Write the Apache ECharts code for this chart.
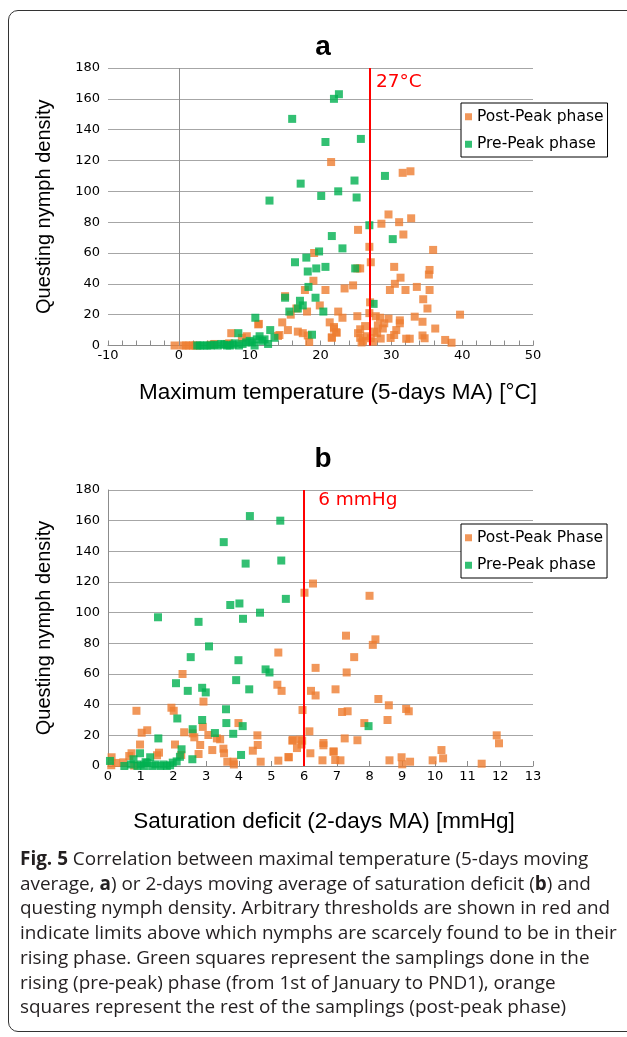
<!DOCTYPE html>
<html><head><meta charset="utf-8">
<script src="https://cdn.jsdelivr.net/npm/echarts@6/dist/echarts.min.js"></script>
<style>
html,body{margin:0;padding:0;background:#fff;}
#wrap{position:relative;width:627px;height:1037px;overflow:hidden;background:#fff;}
#chart{position:absolute;left:0;top:0;width:627px;height:1037px;}
#frame{position:absolute;left:8px;top:10px;width:680px;height:1022px;border:1.5px solid #333;border-radius:10px;box-sizing:border-box;pointer-events:none;}
#caption{position:absolute;left:20px;top:846px;font-family:'Open Sans';font-size:17px;line-height:24.7px;color:#231f20;white-space:nowrap;}
#caption b{font-weight:bold;}
</style></head>
<body>
<div id="wrap">
<div id="chart"></div>
<div id="frame"></div>
<div id="caption"></div>
</div>
<script>
// ---- Panel a: maximum temperature (5-days MA) vs questing nymph density ----
const tempPostPeak = [
 [21.5,119],[25.3,75],[19.1,60],[25.2,50],[19.0,42],[17.8,36],[20.7,36],[23.4,37],[24.6,39],[15.0,32],
 [16.6,24],[18.1,22],[19.9,26],[22.5,22],[23.1,18],[25.2,19],[14.6,15],[21.3,15],[11.3,14],[15.8,20],
 [15.4,10],[16.8,9],[17.5,8],[18.2,6.5],[21.9,12],[22.2,8.6],[21.6,5],[18.4,2.3],[14.0,6.2],[14.2,6.8],
 [7.4,8],[9.6,6],[8.9,5],[7.1,1.4],[5.0,1],[4.5,0.5],[6.8,1],[11.2,13.7],
 [-0.6,0],[0.5,0],[1.0,0],[1.5,0],[2.0,0],[2.4,0],
 [31.6,112],[32.7,113],[29.6,85],[28.6,79],[31.1,80],[32.8,82.5],[31.7,72],[26.9,64],[35.9,62],[27.1,54],
 [30.4,51],[25.6,50],[35.4,49],[35.3,46],[31.3,44],[30.5,40],[33.6,38],[29.8,36],[32.0,36],[35.4,36],
 [34.5,30],[27.0,28],[35.1,24],[26.9,21],[27.8,19],[28.4,18],[29.6,17.4],[31.2,16.3],[33.3,18.7],[34.4,15.4],
 [39.7,20],[31.2,14.4],[29.0,14.4],[36.2,11],[25.6,10.5],[26.3,12.6],[28.1,13],[30.7,10],[21.9,11],[22.3,8.3],
 [25.3,8],[28.0,8],[30.4,6.8],[34.4,6.5],[21.6,5.3],[25.6,5],[27.1,4.7],[28.5,4.5],[29.9,4.9],[32.1,4.4],
 [32.6,4.4],[34.7,4.7],[37.6,3.6],[38.5,1.8],[26.0,3],[26.5,6],[27.6,9],[28.8,11],[25.8,2],[27.4,2.5]
];
const tempPrePeak = [
 [16.0,147],[21.9,160],[22.6,163],[20.7,132],[25.7,134],[17.2,105],[12.8,94],[20.1,97],[22.5,100],[24.8,107],
 [25.1,96],[29.1,110],[26.9,78],[30.2,69],[21.6,71],[23.1,63],[19.8,61],[16.4,54],[18.0,57],[18.2,48],
 [19.4,50],[20.7,51],[24.9,50],[18.3,38],[15.0,31],[19.3,31],[17.1,29],[17.5,26],[16.8,24],[15.6,22],
 [20.4,22],[27.5,27],[10.8,18],[12.9,10],[8.4,8],[18.8,7],[11.4,6],[12.1,4],[13.5,5],[12.6,1],[10.7,0],
 [2.6,0],[3.0,0],[3.5,0],[4.0,0],[4.5,0],[5.0,0.5],[5.5,0],[6.0,1],[6.4,0.5],[6.8,0],
 [7.2,0],[7.6,0.5],[7.9,1.4],[8.5,0],[9.0,1],[9.5,2],[10.0,3],[10.3,2],[11.0,4],[11.8,3]
];
// ---- Panel b: saturation deficit (2-days MA) vs questing nymph density ----
const sdPostPeak = [
 [6.27,119],[6.01,113],[5.21,74],[6.35,64],[2.28,60],[5.18,53],[5.31,49],[6.21,49],[6.35,46],[2.92,42],
 [0.87,36],[1.94,38],[2.01,36],[5.95,36.5],[3.99,28],[2.90,25.5],[1.03,21.7],[1.20,23.3],[2.33,22],[2.59,21.3],
 [2.64,18.7],[3.07,20.2],[3.33,18],[3.43,17.4],[4.57,20],[6.16,22.6],[0.98,14],[2.05,14],[2.82,13.7],[4.58,13.7],
 [5.64,16.5],[5.94,16.5],[5.92,14],[6.59,15],[6.59,13.5],[5.78,11.7],[3.53,11.3],[3.19,10.4],[4.43,10],[6.90,9.5],
 [6.19,8.3],[0.72,8.3],[0.65,6.5],[3.55,8.3],[2.77,7.8],[1.56,8.7],[1.50,7],[2.24,7.2],[0.11,5.7],[0.10,0.5],
 [0.25,2],[0.47,2.4],[0.8,0.3],[3.65,2.8],[3.84,2.8],[3.85,1],[4.67,2.8],[5.21,3.5],[5.52,5.8],[6.56,3.7],
 [6.95,3.9],[8.00,111],[7.28,85],[8.18,82.6],[8.10,79],[7.53,71],[7.30,61],[6.96,50],[8.27,43.7],[8.59,39.6],
 [9.12,37.2],[9.20,35.7],[7.16,35.2],[7.33,35.7],[8.55,30],[7.84,28],[11.89,20],[11.96,14.8],[5.65,17],[5.88,17.2],
 [7.24,18],[7.63,16.8],[6.90,9.3],[10.20,10.4],[10.25,5],[5.53,5.7],[7.11,3.7],[8.61,3.7],[8.98,5.7],[9.0,1.1],
 [9.24,2.8],[9.93,3.7],[11.43,1.5]
];
const sdPrePeak = [
 [4.34,163],[5.27,160],[3.54,146],[5.30,134],[4.21,132],[5.44,109],[3.74,105],[4.02,106],[4.65,100],[4.13,96],
 [1.53,97],[2.77,94],[3.09,78],[2.53,71],[3.99,69],[4.82,63],[4.94,61],[3.92,56],[2.08,54],[4.32,50],
 [2.44,49],[2.88,51],[2.99,48],[3.61,37],[2.12,31],[2.88,30],[3.62,28],[4.12,26],[2.59,24],[3.27,21.5],
 [3.83,21],[1.54,18],[2.25,10.9],[2.58,4.4],[0.98,8.3],[1.29,5.7],[4.07,7.2],[0.06,3.3],[7.97,26],[0.78,4.4],
 [0.5,0],[0.7,1],[0.9,0],[1.0,1],[1.1,0],[1.2,2],[1.35,0],[1.45,1],[1.6,0],[1.7,1],
 [1.8,0],[1.9,0.5],[1.98,2.2],[2.1,3],[2.2,6],[1.15,2.5]
];
const tempTicks = {min:-10, max:50, step:2, labelStep:10};
const sdTicks = {min:0, max:13, step:1};
const densityTicks = {min:0, max:180, step:20};
const tempThreshold = 27, sdThreshold = 6;
const labels = {
  titleA:'a', titleB:'b',
  xNameA:'Maximum temperature (5-days MA) [°C]',
  xNameB:'Saturation deficit (2-days MA) [mmHg]',
  yName:'Questing nymph density',
  postA:'Post-Peak phase', postB:'Post-Peak Phase', pre:'Pre-Peak phase',
  thrA:'27°C', thrB:'6 mmHg'
};
const captionHTML = [
 '<b>Fig. 5</b> Correlation between maximal temperature (5-days moving',
 'average, <b>a</b>) or 2-days moving average of saturation deficit (<b>b</b>) and',
 'questing nymph density. Arbitrary thresholds are shown in red and',
 'indicate limits above which nymphs are scarcely found to be in their',
 'rising phase. Green squares represent the samplings done in the',
 'rising (pre-peak) phase (from 1st of January to PND1), orange',
 'squares represent the rest of the samplings (post-peak phase)'
];

// caption
const cap = document.getElementById('caption');
cap.innerHTML = captionHTML.join('<br>');
(function fitCaption(){
  const c = document.createElement('canvas').getContext('2d');
  c.font = "100px 'Open Sans'";
  const w = c.measureText('indicate limits above which nymphs are scarcely found to be in their').width;
  cap.style.fontSize = (100*597/w).toFixed(2)+'px';
})();

const ORANGE = '#ED7D31', GREEN = '#00B050', GRID = '#a6a6a6', AXIS = '#8c8c8c';
const tickFont = {color:'#000', fontSize:13, fontFamily:'DejaVu Sans'};
const nameFont = {color:'#000', fontSize:22.5, fontFamily:'Liberation Sans'};

function yAxisFor(idx, showLine){
  return {
    gridIndex: idx, type:'value', min:densityTicks.min, max:densityTicks.max, interval:densityTicks.step,
    axisLine:{show:showLine, lineStyle:{color:AXIS, width:1}},
    axisTick:{show:false},
    axisLabel:Object.assign({margin:8}, tickFont),
    splitLine:{show:true, lineStyle:{color:GRID, width:1}},
    name:labels.yName, nameLocation:'middle', nameGap:54, nameRotate:90,
    nameTextStyle:Object.assign({}, nameFont, {fontSize:20})
  };
}
function thresholdMark(x, y, text, dist){
  return {
    markLine:{silent:true, symbol:['none','none'], animation:false, label:{show:false},
      lineStyle:{color:'#ff0000', width:2, type:'solid'}, data:[{xAxis:x}]},
    markPoint:{silent:true, symbol:'rect', symbolSize:0, animation:false,
      label:{show:true, position:'right', distance:dist, formatter:text, color:'#ff0000', fontSize:18.5, fontFamily:'DejaVu Sans'},
      data:[{coord:[x,y]}]}
  };
}
const zeroLine = {markLine:{silent:true, symbol:['none','none'], animation:false, label:{show:false},
  lineStyle:{color:AXIS, width:1, type:'solid'}, data:[{xAxis:0}]}};

const scatterBase = {type:'scatter', symbol:'rect', symbolSize:8, animation:false};
const legendBase = {orient:'vertical', left:461, padding:[5,4,4,4], itemGap:10, itemWidth:7, itemHeight:7, icon:'rect',
  borderColor:'#000', borderWidth:1, backgroundColor:'#fff', selectedMode:false,
  textStyle:{color:'#000', fontSize:15.5, fontFamily:'DejaVu Sans', lineHeight:17.5}};

const option = {
  backgroundColor:'#fff',
  animation:false,
  title:[
    {text:labels.titleA, left:318, top:28, textAlign:'center', textStyle:{fontSize:28, fontWeight:'bold', fontFamily:'Liberation Sans', color:'#000'}},
    {text:labels.titleB, left:318, top:440, textAlign:'center', textStyle:{fontSize:28, fontWeight:'bold', fontFamily:'Liberation Sans', color:'#000'}}
  ],
  legend:[
    Object.assign({}, legendBase, {top:103, data:[labels.postA, labels.pre]}),
    Object.assign({}, legendBase, {top:524, data:[labels.postB, labels.pre]})
  ],
  grid:[
    {left:108, top:68, width:425, height:277.5, containLabel:false},
    {left:108, top:490, width:425, height:276, containLabel:false}
  ],
  xAxis:[
    {gridIndex:0, type:'value', min:tempTicks.min, max:tempTicks.max, interval:tempTicks.step,
     axisLine:{onZero:false, lineStyle:{color:AXIS, width:1}},
     axisTick:{show:true, inside:true, length:5, lineStyle:{color:AXIS}},
     axisLabel:Object.assign({margin:4, formatter:v => (v % tempTicks.labelStep === 0 ? String(v) : '')}, tickFont),
     splitLine:{show:false},
     name:labels.xNameA, nameLocation:'middle', nameGap:36,
     nameTextStyle:Object.assign({}, nameFont, {padding:[0,0,0,35]})},
    {gridIndex:1, type:'value', min:sdTicks.min, max:sdTicks.max, interval:sdTicks.step,
     axisLine:{onZero:false, lineStyle:{color:AXIS, width:1}},
     axisTick:{show:true, inside:true, length:5, lineStyle:{color:AXIS}},
     axisLabel:Object.assign({margin:4}, tickFont),
     splitLine:{show:false},
     name:labels.xNameB, nameLocation:'middle', nameGap:44,
     nameTextStyle:Object.assign({}, nameFont, {padding:[0,0,0,7]})}
  ],
  yAxis:[yAxisFor(0,false), yAxisFor(1,true)],
  series:[
    Object.assign({}, scatterBase, zeroLine, {name:labels.postA, xAxisIndex:0, yAxisIndex:0, itemStyle:{color:ORANGE}, data:tempPostPeak}),
    Object.assign({}, scatterBase, thresholdMark(tempThreshold, 171, labels.thrA, 6), {name:labels.pre, xAxisIndex:0, yAxisIndex:0, itemStyle:{color:GREEN}, data:tempPrePeak}),
    Object.assign({}, scatterBase, {name:labels.postB, xAxisIndex:1, yAxisIndex:1, itemStyle:{color:ORANGE}, data:sdPostPeak}),
    Object.assign({}, scatterBase, thresholdMark(sdThreshold, 173.5, labels.thrB, 14), {name:labels.pre, xAxisIndex:1, yAxisIndex:1, itemStyle:{color:GREEN}, data:sdPrePeak})
  ]
};
const chart = echarts.init(document.getElementById('chart'), null, {renderer:'canvas'});
chart.setOption(option);
</script>
</body></html>
